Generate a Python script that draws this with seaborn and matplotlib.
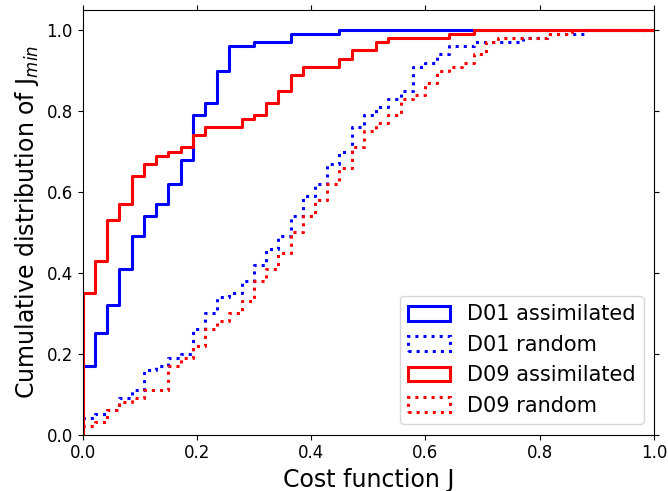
import numpy as np
import pandas as pd
import matplotlib
matplotlib.use("Agg")
import matplotlib.pyplot as plt
from matplotlib.patches import Patch
import seaborn as sns

# ---- data: cumulative fraction at each histogram bin ----
bin_width = 0.0214
n_bins = 47

d01_assim = [0.17, 0.25, 0.32, 0.41, 0.49, 0.54, 0.57, 0.62, 0.68, 0.79,
             0.82, 0.90, 0.96, 0.96, 0.97, 0.97, 0.97, 0.99, 0.99, 0.99,
             0.99] + [1.0] * 26
d01_random = [0.04, 0.05, 0.06, 0.09, 0.11, 0.16, 0.17, 0.19, 0.20, 0.26,
              0.30, 0.34, 0.35, 0.38, 0.42, 0.46, 0.49, 0.54, 0.59, 0.62,
              0.67, 0.70, 0.76, 0.79, 0.81, 0.83, 0.85, 0.91, 0.92, 0.94,
              0.96, 0.96, 0.97, 0.97, 0.97, 0.97, 0.98, 0.98, 0.99, 0.99,
              0.99] + [1.0] * 6
d09_assim = [0.35, 0.43, 0.53, 0.57, 0.64, 0.67, 0.69, 0.70, 0.71, 0.74,
             0.76, 0.76, 0.76, 0.78, 0.79, 0.82, 0.85, 0.89, 0.91, 0.91,
             0.91, 0.93, 0.95, 0.95, 0.97, 0.98, 0.98, 0.98, 0.98, 0.98,
             0.99, 0.99] + [1.0] * 15
d09_random = [0.02, 0.03, 0.06, 0.08, 0.09, 0.11, 0.11, 0.17, 0.19, 0.22,
              0.26, 0.28, 0.30, 0.33, 0.38, 0.41, 0.45, 0.50, 0.54, 0.58,
              0.62, 0.66, 0.71, 0.75, 0.77, 0.79, 0.83, 0.84, 0.87, 0.90,
              0.91, 0.92, 0.94, 0.97, 0.98, 0.98, 0.98, 0.98, 0.99, 0.99] + [1.0] * 7

series_names = ["D01 assimilated", "D01 random", "D09 assimilated", "D09 random"]
series_values = [d01_assim, d01_random, d09_assim, d09_random]
series_colors = ["#0000ff", "#0000ff", "#ff0000", "#ff0000"]
series_styles = ["-", ":", "-", ":"]

x_ticks = [0.0, 0.2, 0.4, 0.6, 0.8, 1.0]
y_ticks = [0.0, 0.2, 0.4, 0.6, 0.8, 1.0]

edges = np.arange(n_bins + 1) * bin_width
centers = edges[:-1] + bin_width / 2

fig = plt.figure(figsize=(6.68, 4.91), dpi=100)
ax = fig.add_axes([82.7 / 668, (491 - 434.5) / 491, 571.3 / 668, 424.5 / 491])

lw = 2.2
handles = []
for name, vals, col, ls in zip(series_names, series_values, series_colors, series_styles):
    cdf = np.asarray(vals, dtype=float)
    inc = np.diff(np.concatenate([[0.0], cdf]))
    df = pd.DataFrame({"J": centers, "w": inc})
    sns.histplot(data=df, x="J", weights="w", bins=edges.tolist(), cumulative=True,
                 stat="count", element="step", fill=False, color=col,
                 linestyle=ls, linewidth=lw, ax=ax)
    line = ax.lines[-1]
    xd, yd = line.get_data()
    line.set_data(np.r_[xd[0], xd], np.r_[0.0, yd])
    handles.append(Patch(facecolor="none", edgecolor=col, linestyle=ls,
                         linewidth=lw, label=name))

ax.set_xlim(0, 1.0)
ax.set_ylim(0, 1.05)
ax.set_xticks(x_ticks)
ax.set_yticks(y_ticks)
ax.tick_params(axis="both", which="both", top=True, right=True,
               direction="out", labelsize=12)
ax.set_xlabel("Cost function J", fontsize=17)
ax.set_ylabel("Cumulative distribution of J$_{min}$", fontsize=17)
ax.legend(handles=handles, loc="lower right", fontsize=15)

fig.savefig("out.png", dpi=100)
